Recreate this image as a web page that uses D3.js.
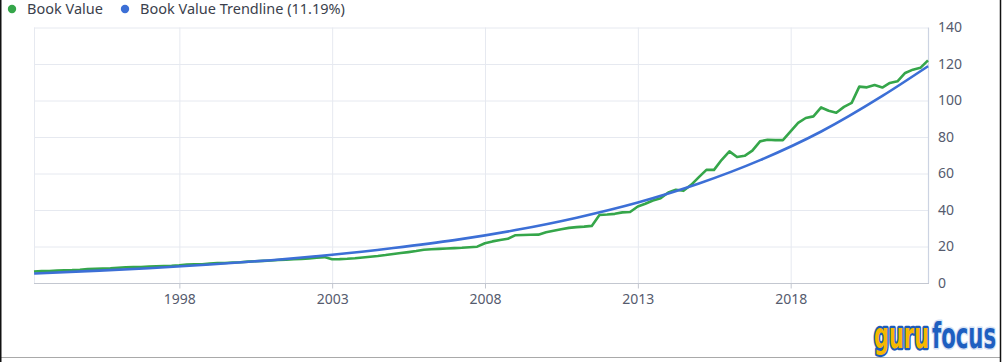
<!DOCTYPE html>
<html>
<head>
<meta charset="utf-8">
<script src="https://cdn.jsdelivr.net/npm/d3@7"></script>
<style>
  html, body { margin: 0; padding: 0; background: #fff; }
  svg { display: block; }
</style>
</head>
<body>
<svg id="chart" width="1002" height="362"></svg>
<script>
// ---------------- data ----------------
const seriesNames = ["Book Value", "Book Value Trendline (11.19%)"];
const firstQuarter = { year: 1993, quarter: 1 }; // quarterly data, quarter-end dates

// Book value per quarter (Mar, Jun, Sep, Dec), 1993 Q1 .. 2022 Q2
const bookValue = [
  6.3, 6.5, 6.6, 6.8,        // 1993
  7.0, 7.1, 7.3, 7.6,        // 1994
  7.8, 7.9, 8.0, 8.3,        // 1995
  8.6, 8.7, 8.8, 9.0,        // 1996
  9.2, 9.3, 9.4, 9.7,        // 1997
  10.1, 10.2, 10.3, 10.6,    // 1998
  10.9, 11.0, 11.2, 11.4,    // 1999
  11.7, 11.9, 12.1, 12.3,    // 2000
  12.6, 12.8, 13.0, 13.2,    // 2001
  13.5, 13.8, 14.2, 13.0,    // 2002
  13.1, 13.3, 13.6, 14.0,    // 2003
  14.4, 14.8, 15.3, 15.9,    // 2004
  16.4, 16.9, 17.5, 18.2,    // 2005
  18.5, 18.7, 18.9, 19.1,    // 2006
  19.3, 19.6, 19.9, 21.8,    // 2007
  22.8, 23.6, 24.2, 26.2,    // 2008
  26.3, 26.4, 26.5, 27.8,    // 2009
  28.6, 29.5, 30.2, 30.6,    // 2010
  30.9, 31.3, 37.3, 37.5,    // 2011
  37.9, 38.7, 38.9, 41.9,    // 2012
  43.4, 45.2, 46.5, 49.6,    // 2013
  51.1, 50.5, 53.8, 58.0,    // 2014
  62.0, 62.0, 67.5, 72.1,    // 2015
  69.0, 69.7, 72.5, 77.6,    // 2016
  78.5, 78.3, 78.3, 83.1,    // 2017
  87.7, 90.4, 91.3, 96.2,    // 2018
  94.4, 93.3, 96.5, 98.7,    // 2019
  107.6, 107.2, 108.5, 107.1,// 2020
  109.6, 110.5, 115.1, 116.9,// 2021
  117.9, 122.0               // 2022
];

// Trendline (fractional year, value)
const trendYears  = [1993.247, 1995, 1997, 1999, 2001, 2003, 2005, 2007, 2009, 2011, 2013, 2015, 2017, 2019, 2021, 2022.496];
const trendValues = [5.2, 6.5, 8.1, 10.1, 12.5, 15.5, 19.2, 23.5, 29.0, 35.8, 44.1, 54.5, 67.3, 83.0, 102.5, 118.8];

const xTickYears  = [1998, 2003, 2008, 2013, 2018];
const yTickValues = [0, 20, 40, 60, 80, 100, 120, 140];
const yMax = 140;

const colors = { book: "#35a64a", trend: "#3c6fd6" };

// ---------------- helpers ----------------
function quarterEnd(i) {
  const q0 = firstQuarter.quarter - 1 + i;
  const year = firstQuarter.year + Math.floor(q0 / 4);
  const month = (q0 % 4) * 3 + 3; // 3,6,9,12
  return new Date(year, month, 0);
}
function fracYearToDate(fy) {
  const y = Math.floor(fy);
  const start = new Date(y, 0, 1), end = new Date(y + 1, 0, 1);
  return new Date(start.getTime() + (fy - y) * (end - start));
}

const bookData  = bookValue.map((v, i) => ({ date: quarterEnd(i), value: v }));
const trendData = trendYears.map((y, i) => ({ date: fracYearToDate(y), value: trendValues[i] }));

// ---------------- layout ----------------
const svg = d3.select("#chart");
const plot = { left: 34, right: 928, top: 27.5, bottom: 283 };

const x = d3.scaleTime()
  .domain([bookData[0].date, bookData[bookData.length - 1].date])
  .range([plot.left, plot.right]);
const y = d3.scaleLinear().domain([0, yMax]).range([plot.bottom, plot.top]);

const xTicks = xTickYears.map(yr => new Date(yr, 0, 1));
const font = "'Noto Sans', 'Open Sans', sans-serif";

svg.append("rect").attr("x", 0).attr("y", 0).attr("width", 1002).attr("height", 362).attr("fill", "#fff");

// horizontal gridlines
svg.append("g").attr("class", "ygrid")
  .attr("transform", `translate(${plot.left},0)`)
  .call(d3.axisLeft(y).tickValues(yTickValues.slice(1)).tickSize(-(plot.right - plot.left)).tickFormat(""))
  .call(g => g.select(".domain").remove())
  .call(g => g.selectAll("line").attr("stroke", "#e6e9f0").attr("stroke-width", 1));

// vertical gridlines
svg.append("g").attr("class", "xgrid")
  .attr("transform", `translate(0,${plot.top})`)
  .call(d3.axisBottom(x).tickValues(xTicks).tickSize(plot.bottom - plot.top).tickFormat(""))
  .call(g => g.select(".domain").remove())
  .call(g => g.selectAll("line").attr("stroke", "#e6e9f0").attr("stroke-width", 1));

// left plot edge (faint) and right plot edge
svg.append("line").attr("x1", x.range()[0] + 0.5).attr("x2", x.range()[0] + 0.5)
  .attr("y1", y(yMax)).attr("y2", y(0)).attr("stroke", "#e6e9f0");
svg.append("line").attr("x1", x.range()[1] + 0.5).attr("x2", x.range()[1] + 0.5)
  .attr("y1", y(yMax)).attr("y2", y(0)).attr("stroke", "#ccd3e2").attr("stroke-width", 1.2);

// x axis
svg.append("g").attr("class", "xaxis")
  .attr("transform", `translate(0,${plot.bottom + 0.5})`)
  .call(d3.axisBottom(x).tickValues(xTicks).tickSize(5).tickPadding(6).tickFormat(d3.timeFormat("%Y")))
  .call(g => g.select(".domain").attr("stroke", "#c3c7d0").attr("d", `M${plot.left},0H${plot.right + 1}`))
  .call(g => g.selectAll("line").attr("stroke", "#c3c7d0"))
  .call(g => g.selectAll("text").attr("fill", "#555b6e").style("font-family", font).style("font-size", "14px"));

// y axis (right)
svg.append("g").attr("class", "yaxis")
  .attr("transform", `translate(${plot.right},0)`)
  .call(d3.axisRight(y).tickValues(yTickValues).tickSize(0).tickPadding(10))
  .call(g => g.select(".domain").remove())
  .call(g => g.selectAll("text").attr("fill", "#555b6e").style("font-family", font).style("font-size", "14px"));

// lines
const line = d3.line().x(d => x(d.date)).y(d => y(d.value));
svg.append("path").datum(bookData)
  .attr("fill", "none").attr("stroke", colors.book).attr("stroke-width", 2.6)
  .attr("stroke-linejoin", "round").attr("d", line);
svg.append("path").datum(trendData)
  .attr("fill", "none").attr("stroke", colors.trend).attr("stroke-width", 2.6)
  .attr("d", line.curve(d3.curveMonotoneX));

// legend
const legend = svg.append("g").attr("class", "legend");
const legendItems = [
  { name: seriesNames[0], color: colors.book, x: 12 },
  { name: seriesNames[1], color: colors.trend, x: 125 }
];
legendItems.forEach(it => {
  legend.append("circle").attr("cx", it.x).attr("cy", 9).attr("r", 4.2).attr("fill", it.color);
  legend.append("text").attr("x", it.x + 15).attr("y", 14).text(it.name)
    .attr("fill", "#3b3f4c").style("font-family", font).style("font-size", "14.5px");
});

// screenshot border
svg.append("line").attr("x1", 0).attr("x2", 1001).attr("y1", 357.5).attr("y2", 357.5).attr("stroke", "#a9a9a9");
svg.append("line").attr("x1", 0.75).attr("x2", 0.75).attr("y1", 0).attr("y2", 362).attr("stroke", "#111").attr("stroke-width", 1.5);
svg.append("line").attr("x1", 1000.5).attr("x2", 1000.5).attr("y1", 0).attr("y2", 362).attr("stroke", "#111").attr("stroke-width", 1.5);

// logo (vertically stretched condensed letters)
const logoFont = "'DejaVu Sans Condensed', 'DejaVu Sans', sans-serif";
svg.append("text").attr("transform", "translate(874,348) scale(1,1.65)").text("guru")
  .style("font-family", logoFont).style("font-weight", "bold").style("font-size", "22px")
  .attr("textLength", 55).attr("lengthAdjust", "spacingAndGlyphs")
  .attr("paint-order", "stroke").attr("stroke-linejoin", "round")
  .attr("fill", "#f6b800").attr("stroke", "#1d5bb8").attr("stroke-width", 2.6);
svg.append("text").attr("transform", "translate(932,348) scale(1,1.65)").text("focus")
  .style("font-family", logoFont).style("font-weight", "bold").style("font-size", "22px")
  .attr("textLength", 64).attr("lengthAdjust", "spacingAndGlyphs")
  .attr("paint-order", "stroke").attr("stroke-linejoin", "round")
  .attr("fill", "#1e5fc0").attr("stroke", "#d6e3f5").attr("stroke-width", 1.8);
</script>
</body>
</html>
